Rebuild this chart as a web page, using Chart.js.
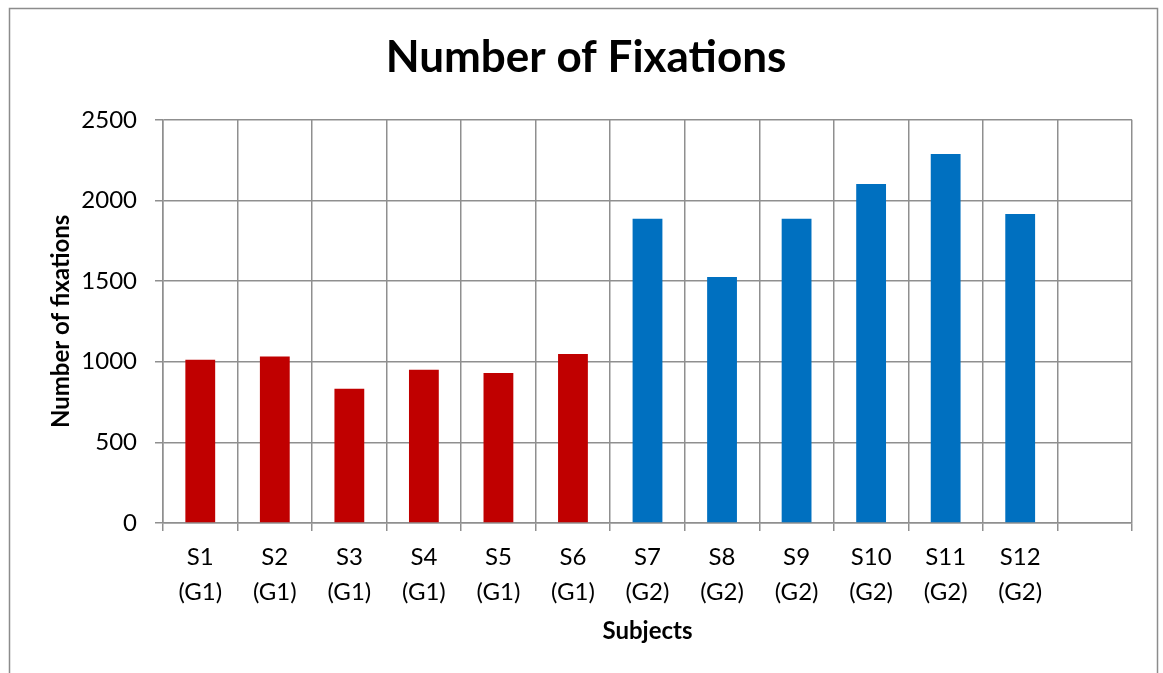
<!DOCTYPE html>
<html>
<head>
<meta charset="utf-8">
<title>Number of Fixations</title>
<script src="https://cdn.jsdelivr.net/npm/chart.js@4/dist/chart.umd.min.js"></script>
<style>
  html, body { margin: 0; padding: 0; background: #fff; }
  #wrap { width: 1163px; height: 673px; }
</style>
</head>
<body>
<div id="wrap"><canvas id="fixChart" width="1163" height="673"></canvas></div>
<script>
// data
const subjects = ['S1', 'S2', 'S3', 'S4', 'S5', 'S6', 'S7', 'S8', 'S9', 'S10', 'S11', 'S12', ''];
const groups = ['G1', 'G1', 'G1', 'G1', 'G1', 'G1', 'G2', 'G2', 'G2', 'G2', 'G2', 'G2', ''];
const fixations = [1012, 1032, 832, 950, 930, 1048, 1886, 1526, 1886, 2102, 2288, 1916, null];
const yTicks = [0, 500, 1000, 1500, 2000, 2500];

const groupColors = { G1: '#C00000', G2: '#0070C0', '': '#ffffff' };
const gridGray = '#8f8f8f';

// two-line tick labels like "S1 / (G1)"
const labels = subjects.map((s, i) => s ? [s, '(' + groups[i] + ')'] : '');

// outer frame of the chart (the bottom edge runs off the picture)
const framePlugin = {
    id: 'frame',
    afterDraw(chart) {
        const c = chart.ctx;
        c.save();
        c.strokeStyle = '#8c8c8c';
        c.lineWidth = 1.5;
        c.strokeRect(9.5, 8.5, 1148, 700);
        c.restore();
    }
};

Chart.defaults.font.family = 'Lato, "Open Sans", sans-serif';
Chart.defaults.color = '#000';

const ctx = document.getElementById('fixChart').getContext('2d');
new Chart(ctx, {
    type: 'bar',
    data: {
        labels: labels,
        datasets: [{
            label: 'Number of fixations',
            data: fixations,
            backgroundColor: groups.map(g => groupColors[g]),
            categoryPercentage: 1,
            barPercentage: 0.4
        }]
    },
    options: {
        responsive: false,
        animation: false,
        layout: { padding: { left: 9, right: 0, top: 0, bottom: 0 } },
        plugins: {
            legend: { display: false },
            tooltip: { enabled: false },
            title: {
                display: true,
                text: 'Number of Fixations',
                font: { size: 44, weight: 'bold', lineHeight: 1.2 },
                padding: { top: 31, bottom: 36 }
            }
        },
        scales: {
            x: {
                offset: true,
                grid: { color: gridGray, lineWidth: 1.5, offset: true, tickLength: 8 },
                border: { color: gridGray, width: 1.5 },
                ticks: {
                    font: { size: 24, lineHeight: 1.45 },
                    padding: 9,
                    maxRotation: 0,
                    autoSkip: false
                },
                title: {
                    display: true,
                    text: 'Subjects',
                    font: { size: 24, weight: 'bold', lineHeight: 1.2 },
                    padding: { top: 0, bottom: 27 }
                },
                afterFit(scale) { scale.height = 150; }
            },
            y: {
                min: 0,
                max: 2500,
                afterBuildTicks(scale) { scale.ticks = yTicks.map(v => ({ value: v })); },
                grid: { color: gridGray, lineWidth: 1.5, tickLength: 8 },
                border: { color: gridGray, width: 1.5 },
                ticks: {
                    font: { size: 24 },
                    padding: 18,
                    callback: v => String(v)
                },
                title: {
                    display: true,
                    text: 'Number of fixations',
                    font: { size: 24, weight: 'bold', lineHeight: 1.2 },
                    padding: { top: 38, bottom: 0 }
                },
                afterFit(scale) { scale.width = 154; }
            },
            // empty spacer on the right so the title stays centred on the frame
            spacer: {
                type: 'linear',
                position: 'right',
                grid: { display: false },
                border: { display: false },
                ticks: { display: false },
                afterFit(scale) { scale.width = 31; }
            }
        }
    },
    plugins: [framePlugin]
});
</script>
</body>
</html>
